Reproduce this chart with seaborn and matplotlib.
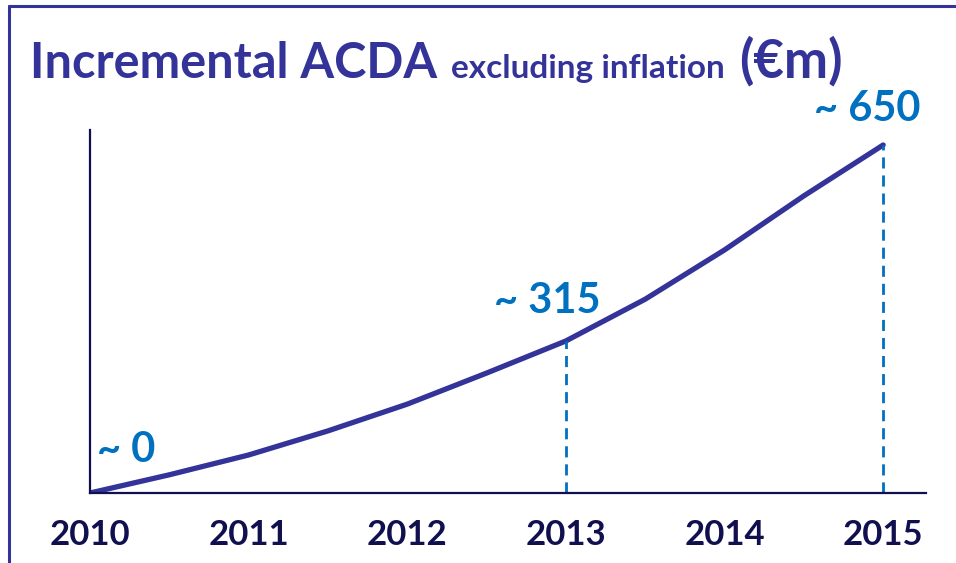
import pandas as pd
import seaborn as sns
import matplotlib.pyplot as plt
from matplotlib.lines import Line2D

# Data (curve read at half-year steps)
years = [2010, 2011, 2012, 2013, 2014, 2015]
curve_x = [2010, 2010.5, 2011, 2011.5, 2012, 2012.5, 2013, 2013.5, 2014, 2014.5, 2015]
curve_y = [0, 34, 71, 116, 166, 224, 284, 362, 454, 555, 650]
marked_years = [2013, 2015]
callouts = ["~ 0", "~ 315", "~ 650"]

df = pd.DataFrame({"year": curve_x, "acda": curve_y})

NAVY = "#333399"
DARK = "#10104f"
BLUE = "#0070c0"
FONT = "Lato"

sns.set_theme(style="white")
plt.rcParams["font.family"] = [FONT, "DejaVu Sans"]

fig = plt.figure(figsize=(9.56, 5.63), dpi=100)
ax = fig.add_axes([90 / 956, 1 - 493 / 563, (926 - 90) / 956, (493 - 130) / 563])

sns.lineplot(data=df, x="year", y="acda", color=NAVY, linewidth=3.8, ax=ax,
             solid_joinstyle="round", solid_capstyle="round")

# dashed drop lines
for yr in marked_years:
    val = df.loc[df["year"] == yr, "acda"].iloc[0]
    ax.vlines(yr, 0, val, colors=BLUE, linestyles=(0, (4, 2.5)), linewidth=2)

ax.set_xlim(2010, 2015.27)
ax.set_ylim(0, 678)
ax.set_xticks(years)
ax.set_xticklabels([str(y) for y in years], fontsize=25, fontweight="bold", color=DARK)
ax.set_yticks([])
ax.set_xlabel("")
ax.set_ylabel("")
ax.tick_params(axis="x", length=0, pad=19)
for s in ["top", "right"]:
    ax.spines[s].set_visible(False)
for s in ["left", "bottom"]:
    ax.spines[s].set_color(DARK)
    ax.spines[s].set_linewidth(1.6)

# value callouts
first = df.iloc[0]
mid = df[df["year"] == 2013].iloc[0]
last = df.iloc[-1]
kw = dict(textcoords="offset points", fontsize=30, fontweight="bold", color=BLUE, va="baseline")
ax.annotate(callouts[0], (first["year"], first["acda"]), xytext=(5, 22), ha="left", **kw)
ax.annotate(callouts[1], (mid["year"], mid["acda"]), xytext=(-52, 20), ha="left", **kw)
ax.annotate(callouts[2], (last["year"], last["acda"]), xytext=(27, 17), ha="right", **kw)

# frame lines (top and left)
fig.add_artist(Line2D([9 / 956, 1], [1 - 6 / 563, 1 - 6 / 563], color=NAVY, lw=2.2))
fig.add_artist(Line2D([9 / 956, 9 / 956], [0, 1 - 6 / 563], color=NAVY, lw=2.2))

# title in three sizes
fig.canvas.draw()
r = fig.canvas.get_renderer()
base_y = 1 - 78 / 563
x = 30 / 956
parts = [("Incremental ACDA", 35, 0), ("excluding inflation", 24, 14), ("(€m)", 38, 14)]
for txt, size, gap in parts:
    x += gap / 956
    t = fig.text(x, base_y, txt, fontsize=size, fontweight="bold", color=NAVY,
                 ha="left", va="baseline")
    bb = t.get_window_extent(r)
    x = bb.x1 / fig.bbox.width

fig.savefig("out.png", dpi=100)
